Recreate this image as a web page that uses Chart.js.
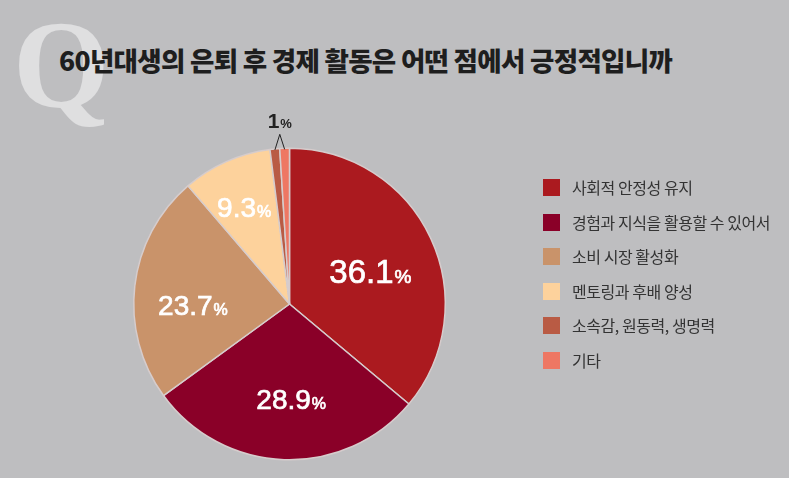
<!DOCTYPE html>
<html>
<head>
<meta charset="utf-8">
<script src="https://cdn.jsdelivr.net/npm/chart.js@4.4.1/dist/chart.umd.min.js"></script>
<style>
  html, body { margin: 0; padding: 0; }
  body { width: 789px; height: 478px; background: #bebec0; position: relative; overflow: hidden; }
  #q { position: absolute; left: 13px; top: 4px; font: bold 124px "Liberation Serif", serif; color: rgba(255,255,255,0.5); line-height: 1; }
  #title { position: absolute; left: 59px; top: 45px; font: 900 26.5px "Noto Sans CJK KR", sans-serif; color: #1e1e1e; line-height: 30px; letter-spacing: -0.7px; white-space: nowrap; }
  #chartBox { position: absolute; left: 0; top: 0; width: 789px; height: 478px; }
  #legend { position: absolute; left: 543px; top: 179px; font: 16px "Noto Sans CJK KR", sans-serif; color: #333; letter-spacing: -0.45px; }
  #legend .row { height: 34.5px; display: flex; align-items: flex-start; white-space: nowrap; }
  #legend .box { width: 17px; height: 17px; margin-right: 12px; flex: none; }
  #legend .txt { line-height: 17px; }
</style>
</head>
<body>
<div id="q">Q</div>
<div id="title">60년대생의 은퇴 후 경제 활동은 어떤 점에서 긍정적입니까</div>
<div id="chartBox"><canvas id="pieChart" width="789" height="478"></canvas></div>
<div id="legend"></div>
<script>
const categories = ["사회적 안정성 유지", "경험과 지식을 활용할 수 있어서", "소비 시장 활성화", "멘토링과 후배 양성", "소속감, 원동력, 생명력", "기타"];
const values = [36.1, 28.9, 23.7, 9.3, 1, 1];
const colors = ["#ab1a1f", "#8a0028", "#c9936a", "#fdd29c", "#b95b44", "#ee7763"];

// label style per slice: [radius factor, angle tweak in deg, number font px, % font px]
const labelStyle = [
  [0.56, 3, 33, 19],
  [0.61, -3, 28, 16],
  [0.62, -7, 28, 16],
  [0.69, -1, 28, 16],
  null,
  null
];

function drawPct(ctx, num, cx, base, sz1, sz2, color, weight, stroke) {
  const f1 = weight + " " + sz1 + "px 'Liberation Sans', Arial, sans-serif";
  const f2 = weight + " " + sz2 + "px 'Liberation Sans', Arial, sans-serif";
  ctx.font = f1;
  const w1 = ctx.measureText(num).width;
  ctx.font = f2;
  const w2 = ctx.measureText("%").width;
  const x0 = cx - (w1 + w2 + 1) / 2;
  ctx.fillStyle = color;
  ctx.strokeStyle = color;
  ctx.lineWidth = stroke || 1;
  ctx.font = f1;
  ctx.fillText(num, x0, base);
  if (stroke) ctx.strokeText(num, x0, base);
  ctx.font = f2;
  ctx.fillText("%", x0 + w1 + 1, base);
  if (stroke) ctx.strokeText("%", x0 + w1 + 1, base);
}

const pieLabels = {
  id: "pieLabels",
  afterDatasetsDraw(chart) {
    const ctx = chart.ctx;
    const arcs = chart.getDatasetMeta(0).data;
    ctx.save();
    ctx.textBaseline = "alphabetic";
    ctx.textAlign = "left";
    arcs.forEach((arc, i) => {
      const st = labelStyle[i];
      if (!st) return;
      const mid = (arc.startAngle + arc.endAngle) / 2 + st[1] * Math.PI / 180;
      const r = arc.outerRadius * st[0];
      const cx = arc.x + Math.cos(mid) * r;
      const cy = arc.y + Math.sin(mid) * r;
      drawPct(ctx, String(values[i]), cx, cy + st[2] * 0.36, st[2], st[3], "#ffffff", "normal", 0.7);
    });

    // leader lines for the two 1% slices
    const pts = [arcs[4], arcs[5]].map(el => {
      const m = (el.startAngle + el.endAngle) / 2;
      return [el.x + Math.cos(m) * (el.outerRadius - 1), el.y + Math.sin(m) * (el.outerRadius - 1)];
    });
    const apexX = (pts[0][0] + pts[1][0]) / 2;
    const apexY = Math.min(pts[0][1], pts[1][1]) - 15;
    ctx.strokeStyle = "#222";
    ctx.lineWidth = 1;
    ctx.beginPath();
    ctx.moveTo(pts[0][0], pts[0][1]);
    ctx.lineTo(apexX, apexY);
    ctx.lineTo(pts[1][0], pts[1][1]);
    ctx.stroke();
    drawPct(ctx, String(values[4]), apexX, apexY - 6, 21, 13, "#222", "bold", 0);
    ctx.restore();
  }
};

const chart = new Chart(document.getElementById("pieChart"), {
  type: "pie",
  data: {
    labels: categories,
    datasets: [{
      data: values,
      backgroundColor: colors,
      borderColor: "#d6cccc",
      borderWidth: 1.5
    }]
  },
  options: {
    responsive: false,
    animation: false,
    layout: { padding: { left: 133, right: 343, top: 147, bottom: 17 } },
    plugins: {
      legend: { display: false },
      tooltip: { enabled: false }
    }
  },
  plugins: [pieLabels]
});

// html legend built from the chart
const legendEl = document.getElementById("legend");
chart.options.plugins.legend.labels.generateLabels(chart).forEach(item => {
  const row = document.createElement("div");
  row.className = "row";
  const box = document.createElement("span");
  box.className = "box";
  box.style.background = item.fillStyle;
  const txt = document.createElement("span");
  txt.className = "txt";
  txt.textContent = item.text;
  row.appendChild(box);
  row.appendChild(txt);
  legendEl.appendChild(row);
});
</script>
</body>
</html>
